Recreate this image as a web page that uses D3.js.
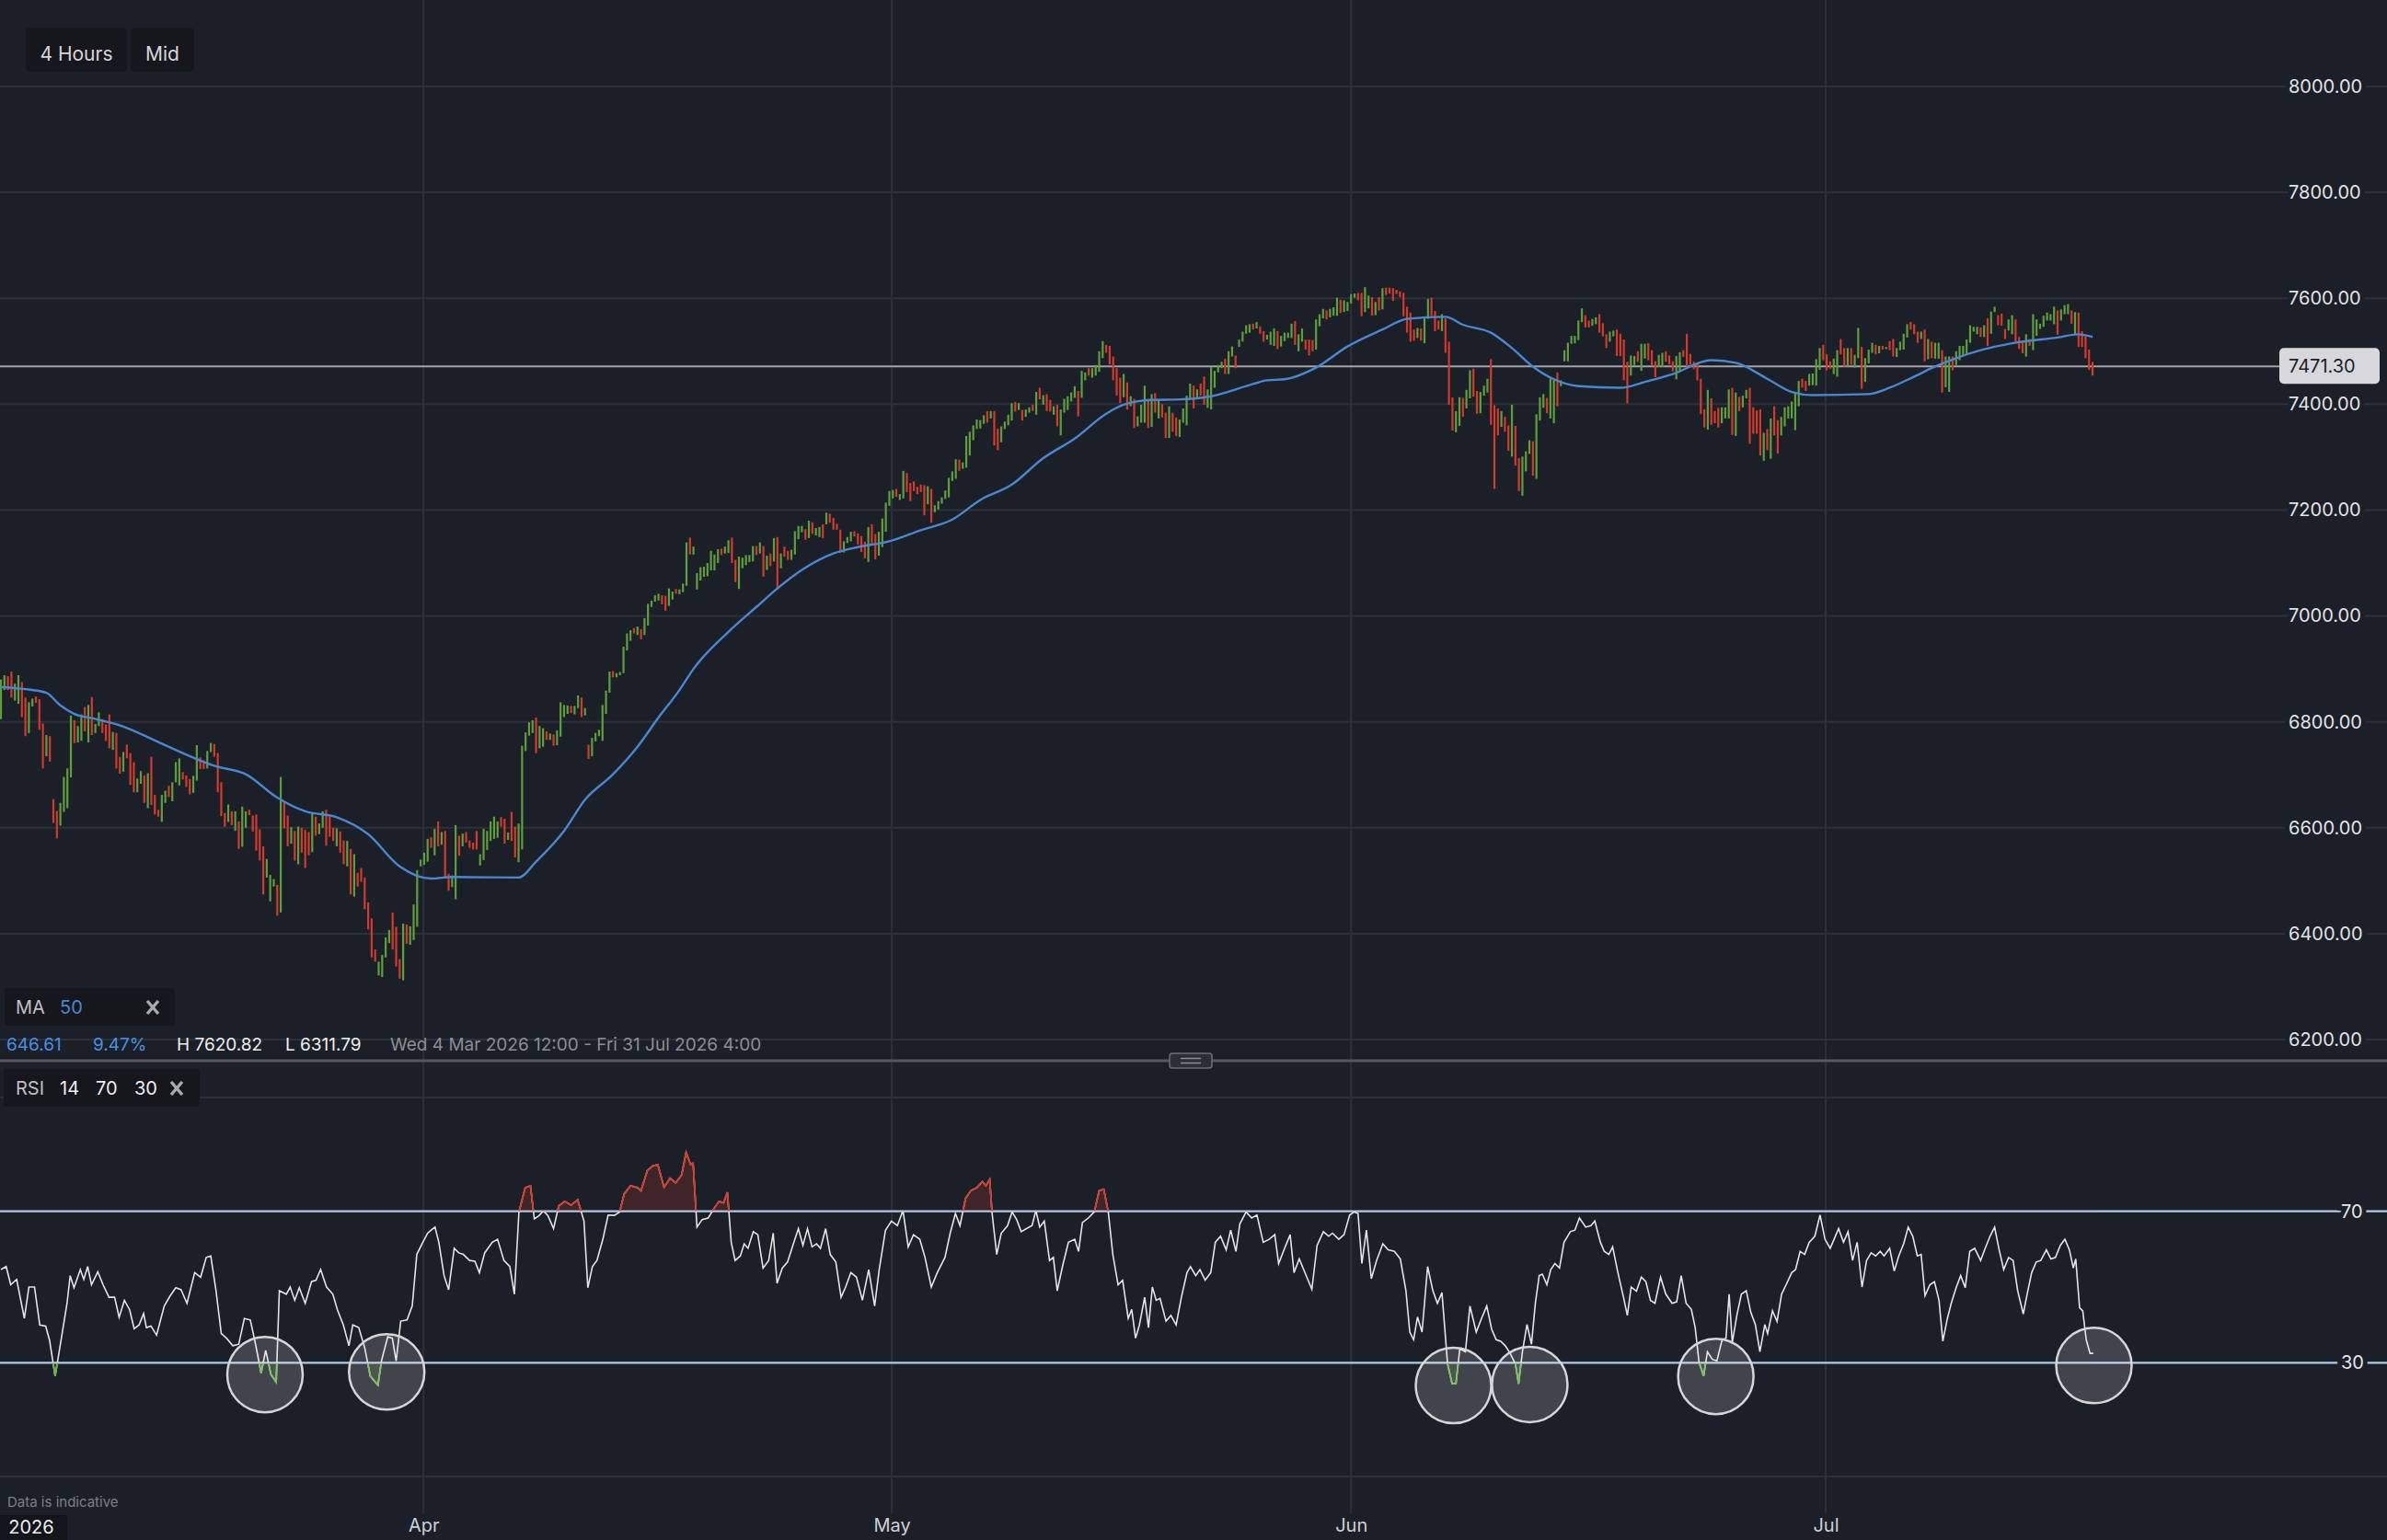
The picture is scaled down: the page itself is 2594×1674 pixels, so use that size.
<!DOCTYPE html>
<html>
<head>
<meta charset="utf-8">
<script src="https://cdn.jsdelivr.net/npm/d3@7"></script>
<style>
body{margin:0;background:#1b1f27;}
svg{display:block;}
</style>
</head>
<body>
<svg id="chart" width="2594" height="1674"></svg>
<script>
// 4 hour bars, Wed 4 Mar 2026 12:00 onwards
var highs = [6880,6888,6886,6895,6872,6888,6875,6846,6837,6844,6848,6843,6797,6775,6773,6654,6632,6647,6696,6712,
6812,6803,6792,6814,6828,6832,6847,6796,6818,6805,6795,6814,6781,6779,6734,6743,6757,6741,6724,6693,
6707,6699,6703,6734,6662,6634,6662,6670,6679,6686,6724,6731,6705,6699,6692,6698,6756,6733,6727,6745,
6760,6758,6741,6686,6628,6644,6631,6631,6612,6640,6631,6634,6623,6625,6597,6565,6541,6511,6503,6492,
6696,6650,6623,6601,6594,6602,6600,6596,6592,6627,6621,6608,6631,6634,6622,6600,6599,6593,6576,6575,
6560,6550,6515,6524,6506,6459,6429,6370,6347,6360,6393,6407,6440,6413,6352,6419,
6417,6414,6455,6520,6540,6553,6579,6582,6598,6612,6592,6594,6513,6510,6605,6585,6589,6592,6576,6572,
6594,6550,6598,6594,6612,6621,6612,6620,6617,6591,6630,6602,6608,6755,6780,6799,6803,6808,6792,6788,
6782,6778,6776,6784,6837,6832,6831,6830,6830,6850,6846,6826,6757,6770,6779,6785,6832,6859,6895,6896,
6892,6894,6942,6967,6973,6977,6980,6975,6996,7023,7029,7039,7042,7039,7038,7052,7046,7051,7050,7061,
7139,7148,7131,7081,7092,7093,7100,7123,7116,7126,7127,7131,7143,7148,7106,7112,7110,7115,7115,7132,
7132,7139,7132,7114,7118,7147,7149,7118,7131,7123,7125,7160,7170,7170,7164,7180,7177,7166,7168,7173,
7195,7193,7185,7174,7163,
7141,7149,7159,7160,7156,7151,7140,7168,7173,7155,7159,7184,7214,7236,7238,7240,7230,7274,7270,7251,
7254,7244,7248,7247,7245,7240,7209,7217,7224,7237,7261,7273,7296,7295,7290,7340,7348,7360,7371,7370,
7379,7387,7387,7387,7354,7358,7367,7380,7402,7404,7402,7389,7390,7394,7399,7423,7431,7417,7419,7408,
7396,7399,7390,7410,7415,7422,7434,7425,7463,7460,7468,7468,7474,7500,7519,7512,7510,7490,7468,7450,
7457,7441,7415,7410,7377,7399,7435,7410,7419,7421,7409,7400,7384,7396,7384,7375,7371,7392,7416,7439,
7435,7428,7439,7452,7428,7470,7463,7474,7480,7486,7500,7509,7492,7522,7537,7549,7551,7552,7555,7547,
7538,7531,7537,
7543,7538,7529,7535,7535,7552,7557,7532,7543,7522,7522,7521,7560,7570,7580,7577,7580,7583,7601,7597,
7596,7593,7608,7609,7610,7610,7620.82,7605,7602,7593,7602,7619,7620,7620,7619,7616,7613,7610,7584,7573,
7541,7544,7543,7564,7599,7601,7576,7558,7570,7562,7518,7413,7387,7413,7412,7427,7464,7467,7425,7423,
7435,7448,7485,7398,7392,7387,7376,7360,7399,7359,7298,7301,7311,7332,7330,7381,7413,7419,7412,7448,
7448,7460,7445,7502,7516,7529,7529,7558,7581,7568,7558,7561,7564,7570,7553,7532,7537,7539,7541,7533,
7522,7480,7492,7491,7500,7514,7514,7515,7502,7481,7493,7497,7500,7492,7481,7491,7498,7502,7533,7495,
7480,7476,7448,7390,7427,7411,7387,7393,7394,7394,7428,7431,7422,7414,7416,7427,
7431,7394,7388,7390,7346,7353,7373,7396,7370,7376,7394,7396,7405,7422,7444,7448,7444,7457,7458,7485,
7506,7512,7494,7481,7486,7502,7523,7506,7506,7506,7493,7544,7508,7487,7503,7516,7512,7510,7510,7508,
7519,7523,7506,7518,7533,7551,7555,7551,7537,7537,7541,7523,7518,7516,7516,7502,7490,7490,7490,7500,
7510,7510,7522,7549,7546,7546,7545,7549,7562,7575,7584,7568,7571,7542,7560,7568,7560,7527,7520,7532,
7523,7570,7560,7552,7567,7573,7570,7584,7577,7579,7587,7589,7577,7574,7573,7538,7529,7503,7480];

var lows = [6805,6860,6860,6846,6840,6834,6809,6773,6779,6829,6836,6785,6712,6735,6725,6609,6580,6604,6630,6637,
6695,6760,6761,6764,6782,6761,6775,6779,6792,6779,6764,6750,6747,6712,6702,6706,6731,6681,6667,6667,
6683,6647,6637,6643,6625,6621,6611,6647,6658,6650,6686,6680,6691,6677,6663,6666,6689,6711,6711,6712,
6743,6734,6667,6622,6602,6611,6605,6594,6560,6564,6600,6624,6593,6557,6538,6474,6506,6461,6489,6434,
6440,6599,6565,6570,6538,6531,6553,6524,6548,6554,6585,6588,6600,6566,6583,6575,6565,6553,6531,6527,
6474,6470,6489,6498,6446,6408,6355,6347,6321,6318,6355,6382,6370,6338,6315,6311.79,
6381,6379,6388,6413,6527,6530,6536,6562,6548,6565,6568,6504,6481,6488,6465,6547,6565,6572,6562,6559,
6559,6529,6539,6558,6575,6579,6581,6602,6570,6577,6575,6544,6535,6559,6745,6774,6779,6741,6750,6753,
6766,6766,6755,6756,6772,6809,6815,6817,6814,6826,6809,6812,6730,6735,6763,6773,6764,6815,6855,6884,
6884,6888,6892,6935,6953,6967,6964,6956,6964,6982,7017,7027,7029,7022,7010,7019,7031,7042,7041,7045,
7057,7116,7116,7050,7067,7074,7075,7086,7086,7100,7115,7118,7119,7100,7064,7051,7090,7096,7102,7103,
7115,7118,7074,7087,7094,7103,7051,7090,7112,7106,7106,7116,7145,7158,7144,7147,7155,7152,7149,7147,
7173,7176,7163,7163,7119,
7120,7138,7141,7150,7135,7121,7109,7102,7133,7107,7114,7130,7159,7208,7222,7225,7219,7222,7234,7217,
7236,7230,7234,7190,7211,7176,7196,7201,7212,7221,7224,7255,7259,7274,7278,7280,7303,7332,7353,7354,
7363,7365,7373,7322,7313,7328,7353,7360,7369,7386,7389,7369,7376,7384,7387,7380,7409,7399,7387,7386,
7380,7358,7341,7384,7389,7405,7412,7377,7412,7445,7454,7450,7454,7461,7487,7497,7475,7445,7416,7402,
7413,7390,7396,7355,7358,7365,7365,7355,7357,7384,7373,7375,7336,7336,7348,7340,7338,7365,7360,7408,
7392,7410,7416,7399,7393,7390,7431,7460,7468,7457,7457,7490,7468,7508,7518,7533,7535,7541,7543,7533,
7518,7522,7512,
7510,7504,7509,7519,7525,7525,7512,7500,7518,7503,7492,7500,7503,7547,7562,7560,7564,7567,7567,7572,
7574,7576,7590,7601,7596,7566,7574,7581,7567,7568,7577,7579,7606,7609,7595,7608,7602,7566,7535,7518,
7520,7525,7520,7515,7561,7567,7538,7541,7538,7497,7399,7350,7347,7359,7376,7392,7411,7414,7382,7383,
7416,7422,7361,7240,7341,7357,7348,7312,7301,7284,7236,7227,7273,7306,7265,7259,7369,7393,7383,7373,
7364,7396,7434,7481,7481,7514,7515,7521,7555,7545,7545,7548,7551,7535,7528,7506,7518,7528,7491,7491,
7445,7402,7454,7474,7480,7463,7486,7483,7473,7451,7470,7470,7480,7475,7462,7447,7462,7489,7471,7474,
7466,7445,7381,7356,7352,7361,7364,7356,7364,7373,7373,7342,7340,7387,7394,7411,
7325,7344,7344,7303,7293,7313,7297,7341,7307,7341,7358,7373,7373,7351,7396,7431,7425,7435,7436,7435,
7465,7483,7464,7467,7457,7452,7494,7471,7471,7474,7469,7487,7429,7442,7477,7497,7494,7496,7503,7504,
7502,7490,7489,7502,7503,7526,7541,7532,7516,7523,7481,7485,7487,7486,7486,7422,7432,7423,7464,7474,
7483,7491,7493,7516,7537,7532,7527,7527,7510,7533,7574,7549,7548,7523,7539,7532,7518,7504,7496,7490,
7510,7502,7529,7542,7546,7558,7558,7551,7531,7558,7570,7570,7552,7532,7508,7508,7487,7465,7454];

// 1 = bar closed up, 0 = bar closed down
var ups = [1,1,0,0,1,1,0,0,1,1,0,0,0,1,0,0,0,1,1,1,1,0,1,1,0,1,0,1,1,0,0,0,1,0,0,1,0,0,0,1,
1,0,1,0,0,0,1,1,0,1,1,1,0,0,0,1,1,0,0,1,1,0,0,0,0,1,0,1,0,1,1,0,0,0,0,0,1,1,1,0,
1,0,0,1,0,1,0,0,0,1,0,1,1,0,0,0,1,0,0,1,0,1,0,0,0,0,0,0,1,1,1,1,0,0,0,1,
0,1,1,1,1,1,1,0,1,0,1,0,0,1,1,0,1,0,0,0,0,1,1,1,1,1,1,0,0,1,0,0,1,1,1,1,1,0,1,1,
0,1,0,1,1,1,1,0,1,1,0,1,0,1,1,1,1,1,1,0,1,1,1,1,1,0,1,0,1,1,1,1,1,0,0,1,1,0,1,1,
1,0,1,1,1,1,1,1,1,1,0,1,1,0,0,1,1,1,1,1,0,1,0,1,0,1,0,1,0,0,1,1,1,1,0,1,0,1,1,0,
1,0,0,0,0,
1,1,1,0,0,0,0,1,0,0,1,1,1,1,1,0,1,1,0,0,0,0,0,0,1,0,1,1,1,1,1,1,1,0,1,1,1,1,1,1,
1,0,1,0,0,1,1,1,1,0,1,0,1,1,0,1,0,1,0,0,1,0,1,1,1,1,1,0,1,1,0,1,1,1,1,0,0,0,0,0,
1,0,1,0,1,1,1,0,1,0,1,0,0,1,0,0,1,1,1,1,0,1,0,0,1,1,1,1,1,0,1,1,0,1,1,1,1,0,1,0,
0,1,1,
1,0,1,1,1,1,0,1,1,0,0,0,1,1,1,0,1,1,1,0,1,1,1,1,0,0,1,1,0,1,0,1,0,0,0,0,0,0,0,0,
0,1,0,1,1,0,0,0,1,0,0,0,1,1,0,1,1,0,0,1,1,1,0,0,0,1,0,0,1,0,0,1,1,1,0,1,1,1,0,1,
1,0,1,1,1,1,1,1,1,0,0,1,1,0,0,0,1,1,0,0,0,0,1,1,0,1,1,0,0,0,1,1,0,0,0,1,1,0,0,0,
0,0,0,0,1,0,0,0,1,1,1,0,1,0,1,1,
0,0,0,0,1,0,1,0,0,1,1,1,1,1,1,0,0,1,1,1,1,0,0,0,1,1,0,0,1,0,1,1,0,1,1,1,0,1,0,1,
0,0,1,1,1,1,0,0,0,1,0,1,0,1,1,0,1,1,0,1,1,1,1,1,1,1,0,1,0,1,1,0,0,0,1,1,0,0,0,1,
0,1,1,1,1,1,1,1,0,1,1,1,0,1,0,0,0,0,0];

// MA(50): [bar index, value]
var ma50 = [[0,6866],[8,6861],[13,6855],[17,6831],[21,6815],[26,6807],[35,6791],[44,6765],[52,6741],[61,6717],
[70,6701],[79,6657],[87,6631],[96,6620],[105,6588],[114,6527],[123,6504],[129,6507],[148,6506],[153,6536],
[161,6594],[167,6653],[175,6701],[182,6753],[188,6808],[194,6860],[198,6900],[208,6970],[216,7017],[222,7052],
[229,7087],[238,7118],[245,7130],[254,7141],[263,7162],[272,7182],[280,7219],[289,7248],[298,7298],[307,7335],
[316,7382],[321,7399],[329,7408],[337,7409],[346,7415],[358,7438],[362,7445],[367,7447],[376,7469],[385,7509],
[395,7541],[402,7561],[413,7565],[418,7550],[426,7535],[432,7506],[438,7471],[444,7447],[451,7434],[463,7431],
[470,7442],[478,7457],[489,7483],[496,7478],[505,7448],[512,7423],[518,7417],[534,7419],[540,7431],[547,7452],
[553,7471],[559,7487],[566,7502],[575,7515],[588,7526],[594,7532],[598,7527]];

// RSI(14): [bar index, value]
var rsi14 = [[0,54.6],[1.5,55.4],[2.8,50.6],[4.5,52],[6.7,41.7],[8,50],[9.6,50],[11.1,40],[12.8,39.7],[13.9,36],
[15.5,26.5],[17.2,36],[18.9,45.7],[19.8,53],[20.9,49.8],[22.7,54.6],[23.7,52],[24.8,55.4],[25.9,50.6],[27.7,54],
[29.2,50.6],[30.9,47.3],[32.5,47.3],[33.8,42],[35.3,46.5],[36.8,44],[38.1,39],[39.5,40],[40.8,43],[41.6,39.3],
[42.9,39.7],[44.5,37.3],[46.7,45],[48.4,47.7],[50,49.8],[51.5,49.3],[53.2,45.7],[55.4,53.8],[57.1,52.6],[58.7,57.8],
[60,58.2],[61.5,49],[63,37.7],[64.5,36.5],[66.3,34.5],[68,34.9],[69.6,41.7],[71.3,41.3],[72.8,34.9],[74.4,27.3],
[75.7,33.3],[77.2,26.9],[78.7,24.9],[79.6,49],[81.6,48.1],[82.7,50],[84,46.5],[85.3,49.8],[87,45.7],[88.8,51.4],
[90.1,51.8],[91.4,54.6],[93.1,50],[94.9,48.1],[96.2,44],[97.9,40],[99.5,34.5],[100.6,40],[102.3,39.3],[104,34],
[105.6,26.5],[107.8,24.1],[108.8,30.5],[110.6,36.9],[111.9,36.5],[113,30.5],[114.3,41],[116.1,41.3],[117.6,45],[118.9,58.6],
[120.4,61.4],[122,64.2],[123,65],[124.1,65.8],[125.2,61.8],[126.7,53],[128,49.3],[129.6,60.2],[130.9,59],[132.2,58.6],
[134,57],[135.5,56.8],[136.8,53.8],[138.3,59],[140.5,61.8],[142,62.6],[143.8,57],[145.5,55.4],[146.8,48.1],[148.1,69.8],
[149.9,76.2],[151.4,76.7],[152.5,68],[153.8,68.8],[155.1,70.1],[156.4,68.8],[158,65.4],[159.5,71.4],[161.2,72.6],[163,71.6],
[164.9,73],[166.7,67.4],[167.8,49.8],[169.1,55.4],[170.4,57],[172.1,62.6],[173.6,69],[175.4,68.9],[176.9,69.8],[178.2,74.6],
[180,76.7],[181.9,76.3],[183,75.4],[184.8,80.7],[186.3,81.9],[187.8,82.3],[189.6,76.3],[191.3,78.7],[192.9,77.5],[194.6,79.5],
[195.9,85.5],[197.2,82.3],[197.9,82.7],[199,65.8],[200.5,67.8],[202.2,68.2],[203.8,70.6],[205.3,72.6],[206.6,72.2],[207.7,75],
[208.8,61.8],[209.9,57],[211.4,58.2],[212.5,61.4],[213.6,60.2],[215.1,64.6],[216.4,63.8],[217.9,55],[219.5,57],[220.8,64.2],
[221.9,51],[223.4,55],[224.9,56.6],[226.7,61.8],[228,65.4],[229.3,61],[230.6,65.4],[231.9,60.6],[233.2,61.4],[234.3,60.2],
[235.8,65.4],[237.1,58.6],[238.7,56.6],[240.2,47.3],[241.5,50],[243,53.8],[244.6,52.6],[246.3,46.5],[248.1,54.6],[249.8,45],
[251.1,54.6],[252.9,65],[254.6,67.4],[256.3,66.2],[257.9,70.2],[259.4,60.6],[260.9,63.8],[262.7,62.6],[264.2,57.8],[266,50],
[267.7,53.8],[269.9,57.8],[271.4,64.2],[272.9,69.4],[274.2,66.2],[275.8,73.4],[277.3,75.4],[279,76.2],[280.6,77.8],[281.6,76.7],
[282.7,78.4],[283.4,69.3],[284.7,58.6],[286,64.2],[287.8,66.2],[289.1,69.8],[290.4,67.8],[291.7,64.6],[293.2,65.4],[294.8,66.2],
[295.9,70.2],[297,65.8],[298.3,67.4],[299.8,57],[300.9,57.8],[302,49],[303.5,55.4],[305.2,61.8],[307,62.6],[308.1,59.4],
[309.2,67],[310.9,68.2],[312.6,69.8],[314,75.4],[315.3,75.8],[316.6,69.8],[317.9,58.6],[319.4,50.6],[320.7,51.8],[322.3,41.7],
[323.3,44.1],[324.4,36.5],[325.5,40],[327,47.3],[328.1,39.3],[329.2,50],[330.3,46.5],[331.4,47],[333.1,41],[334.5,42.5],
[336,40],[337.5,47.3],[339.1,53.8],[340.1,55.4],[341.6,53],[342.8,54.6],[344.3,51.8],[345.9,53.8],[347.2,61.8],[348.7,63.4],
[350.3,59.8],[351.6,65],[353.1,59.4],[354.2,66.6],[356,69.8],[357.6,68.2],[359.1,69],[360.9,61.8],[362.6,62.6],[364.2,63.8],
[365.3,56.2],[367,60.2],[368.6,63.8],[369.7,53.8],[371.2,57.4],[373,53.4],[374.8,49.4],[376.3,61],[378.1,64.6],[379.6,63.4],
[380.7,64.2],[382.5,62.6],[384,63.8],[385.6,69],[386.9,69.8],[388,69.4],[389.1,56.2],[390.4,65],[391.8,52.2],[393.3,57],
[395.1,61.4],[396.6,59.8],[398.4,59.4],[400.1,57.4],[401.7,49],[402.8,38.1],[403.9,36.1],[405,42.1],[406.3,38.1],[407.9,55.4],
[409.4,49],[410.7,45.7],[412,48.5],[413.6,29.7],[414.9,24.5],[416,24.5],[417.1,33.7],[418.7,32.9],[420,45],[421.8,38.1],
[423.3,41.7],[424.8,45],[426.2,38.9],[427.5,36.1],[428.8,35.7],[430.1,34.5],[431.5,32.5],[433,29.7],[433.9,24.5],[435,32.9],
[436.3,40.1],[437.6,34.9],[438.7,45.7],[439.8,53],[440.7,53.4],[442,50.6],[443.1,54.6],[444.3,56.2],[445.6,55],[446.9,61.8],
[448.7,64.6],[450,65],[451.3,68.2],[453.1,65.8],[454.6,66.2],[455.7,67.4],[457.3,61.8],[458.4,59.4],[459.7,58.6],[460.8,60.6],
[462.3,53.8],[463.9,47.3],[465,42.5],[466.1,50],[467.6,48.9],[469,52.6],[470.3,51.4],[471.6,46.5],[472.9,45.7],[474.5,52.6],
[476,48.1],[477.8,45.7],[479.1,46.1],[480.4,53],[481.8,45.7],[483.3,44.1],[484.4,39.3],[485.5,30.1],[486.8,26.5],[487.9,32.9],
[489.3,30.9],[490.6,30.5],[492.1,36.1],[493.2,36.5],[494.1,48.1],[495,35.3],[496.3,42.5],[497.6,48.1],[499,49],[500.3,43.3],
[501.6,40.1],[502.9,32.9],[504.3,40.1],[505.1,37.7],[506.5,43.7],[507.8,40.9],[509.1,48.1],[510.4,50.6],[512,53.8],[513.1,54.6],
[514.4,59.4],[515.7,58.6],[517,61.8],[518.6,63.4],[520.1,69],[521.5,62.6],[523,60.2],[524.1,62.6],[525.4,65.4],[526.8,61.8],
[528.1,64.6],[529.4,57],[530.7,61.8],[532.1,50],[533.4,57],[534.7,59],[536,58.2],[537.3,59.4],[538.4,58.2],[540,60.2],
[541.3,54.2],[542.6,58.2],[544,61.4],[545.3,65.8],[546.6,63.4],[547.9,58.2],[549,58.6],[550.1,47.7],[551.5,50.6],[552.8,51.4],
[554.1,46.5],[555.2,35.7],[556.5,41.7],[557.6,45.7],[559,49.8],[560.3,53],[561.6,49.8],[562.9,59.4],[564.3,60.2],[566,57],
[567.3,60.2],[568.7,63.4],[570,65.8],[571.3,59.8],[572.6,54.6],[574,57.8],[575.3,57],[576.6,49],[578.2,42.9],[579.3,48.1],
[580.6,53.8],[581.9,56.6],[583.2,57],[584.8,59.8],[586.1,57.4],[587.4,57.8],[588.8,61],[590.1,62.6],[591.4,59.8],[592.5,55],
[593.2,57.4],[594.3,44.5],[595.2,43.7],[596.2,36.1],[597.3,32.5],[598.2,32.5]];

var priceTicks = [6200,6400,6600,6800,7000,7200,7400,7600,7800,8000];
var rsiLevels = [70,30];
var monthLabels = ["Apr","May","Jun","Jul"];
var monthIdx = [120.8,254.7,386,521.7];
var lastPrice = 7471.30;
var firstOpen = 6824.69;
var rangeText = "Wed 4 Mar 2026 12:00 - Fri 31 Jul 2026 4:00";
// highlighted RSI dips
var circleIdx = [75.5,110.3,415.3,437.1,490.3,598.4];
var circleRsi = [26.9,27.6,24,24.3,26.4,29.3];

window.addEventListener("load",function(){
var W = 2594, H = 1674;
var bg = "#1b1f27", grid = "#2c3039", font = "Inter, Roboto, sans-serif";
var green = "#5c9f3c", red = "#d23a2c";
var svg = d3.select("#chart").attr("font-family", font);

var x = d3.scaleLinear().domain([0, 598]).range([1, 2274]);
var y = d3.scaleLinear().domain([6200, 8000]).range([1130, 94]);
var yR = d3.scaleLinear().domain([0, 100]).range([1605, 1193]);

svg.append("rect").attr("width", W).attr("height", H).attr("fill", bg);

// grid
svg.selectAll(".hgrid").data(priceTicks).enter().append("line")
  .attr("x1", 0).attr("x2", W).attr("y1", d => y(d)).attr("y2", d => y(d))
  .attr("stroke", grid).attr("stroke-width", 2);
svg.selectAll(".rgrid").data([0, 100]).enter().append("line")
  .attr("x1", 0).attr("x2", W).attr("y1", d => yR(d)).attr("y2", d => yR(d))
  .attr("stroke", grid).attr("stroke-width", 2);
svg.selectAll(".vgrid").data(monthIdx).enter().append("line")
  .attr("x1", d => x(d)).attr("x2", d => x(d)).attr("y1", 0).attr("y2", 1645)
  .attr("stroke", grid).attr("stroke-width", 2);

// last price line
svg.append("line").attr("x1", 0).attr("x2", 2477).attr("y1", y(lastPrice)).attr("y2", y(lastPrice))
  .attr("stroke", "#a3a3a8").attr("stroke-width", 2);

// bars
var n = Math.min(highs.length, lows.length, ups.length);
var bars = d3.range(n);
svg.append("g").selectAll("rect").data(bars).enter().append("rect")
  .attr("x", i => x(i) - 1.1)
  .attr("y", i => y(highs[i]))
  .attr("width", 2.2)
  .attr("height", i => Math.max(2, y(lows[i]) - y(highs[i])))
  .attr("fill", i => ups[i] ? green : red);

// MA 50
var maLine = d3.line().x(d => x(d[0])).y(d => y(d[1])).curve(d3.curveMonotoneX);
svg.append("path").attr("d", maLine(ma50)).attr("fill", "none")
  .attr("stroke", "#4a87d0").attr("stroke-width", 2.4);

// price axis
var gy = svg.append("g").attr("transform", "translate(2487,0)")
  .call(d3.axisRight(y).tickValues(priceTicks).tickFormat(d3.format(".2f")).tickSize(0).tickPadding(0));
gy.select(".domain").remove();
gy.attr("font-family", font).attr("font-size", 20);
gy.selectAll("text").attr("fill", "#e3e3e6").attr("text-anchor", "start")
  .attr("stroke", bg).attr("stroke-width", 10).attr("paint-order", "stroke").attr("stroke-linejoin", "round");

svg.append("rect").attr("x", 2477).attr("y", y(lastPrice) - 20).attr("width", 109).attr("height", 39)
  .attr("rx", 5).attr("fill", "#d8d7dc");
svg.append("text").attr("x", 2487).attr("y", y(lastPrice)).attr("dy", "0.35em")
  .attr("font-size", 20).attr("fill", "#1b1f27").text(d3.format(".2f")(lastPrice));

// separator + handle
svg.append("line").attr("x1", 0).attr("x2", W).attr("y1", 1153).attr("y2", 1153)
  .attr("stroke", "#55595f").attr("stroke-width", 3);
svg.append("rect").attr("x", 1271).attr("y", 1145).attr("width", 46).attr("height", 16).attr("rx", 3)
  .attr("fill", "#2a2e36").attr("stroke", "#6a6e75").attr("stroke-width", 1.5);
[1150.5, 1155.5].forEach(function(v){
  svg.append("line").attr("x1", 1283).attr("x2", 1305).attr("y1", v).attr("y2", v)
    .attr("stroke", "#8a8e95").attr("stroke-width", 1.5);
});

// RSI panel
svg.selectAll(".lvl").data(rsiLevels).enter().append("line")
  .attr("x1", 0).attr("x2", W).attr("y1", d => yR(d)).attr("y2", d => yR(d))
  .attr("stroke", "#b4cbe8").attr("stroke-width", 2.4);

var defs = svg.append("defs");
defs.append("clipPath").attr("id", "above").append("rect")
  .attr("x", 0).attr("y", yR(100)).attr("width", W).attr("height", yR(70) - yR(100));
defs.append("clipPath").attr("id", "below").append("rect")
  .attr("x", 0).attr("y", yR(30)).attr("width", W).attr("height", yR(0) - yR(30));

var rLine = d3.line().x(d => x(d[0])).y(d => yR(d[1]));
svg.append("path").attr("d", d3.area().x(d => x(d[0])).y0(yR(70)).y1(d => yR(d[1]))(rsi14))
  .attr("fill", "rgba(210,58,44,0.2)").attr("clip-path", "url(#above)");
svg.append("path").attr("d", d3.area().x(d => x(d[0])).y0(yR(30)).y1(d => yR(d[1]))(rsi14))
  .attr("fill", "rgba(92,160,60,0.18)").attr("clip-path", "url(#below)");
svg.append("path").attr("d", rLine(rsi14)).attr("fill", "none")
  .attr("stroke", "#e4e4e6").attr("stroke-width", 1.6);
svg.append("path").attr("d", rLine(rsi14)).attr("fill", "none")
  .attr("stroke", red).attr("stroke-width", 1.8).attr("clip-path", "url(#above)");
svg.append("path").attr("d", rLine(rsi14)).attr("fill", "none")
  .attr("stroke", "#67b34a").attr("stroke-width", 1.8).attr("clip-path", "url(#below)");

svg.selectAll(".dip").data(circleIdx).enter().append("circle")
  .attr("cx", d => x(d)).attr("cy", (d, i) => yR(circleRsi[i])).attr("r", 41)
  .attr("fill", "rgba(255,255,255,0.17)").attr("stroke", "#d6d6d8").attr("stroke-width", 2.5);

var gr = svg.append("g").attr("transform", "translate(2544,0)")
  .call(d3.axisRight(yR).tickValues(rsiLevels).tickSize(0).tickPadding(0));
gr.select(".domain").remove();
gr.attr("font-family", font).attr("font-size", 20);
gr.selectAll("text").attr("fill", "#e6e6e8").attr("text-anchor", "start")
  .attr("stroke", bg).attr("stroke-width", 10).attr("paint-order", "stroke");

// time axis
var gx = svg.append("g").attr("transform", "translate(0,1651)")
  .call(d3.axisBottom(x).tickValues(monthIdx).tickFormat((d, i) => monthLabels[i]).tickSize(0).tickPadding(0));
gx.select(".domain").remove();
gx.attr("font-family", font).attr("font-size", 20);
gx.selectAll("text").attr("fill", "#cfd0d3");
svg.append("rect").attr("x", 0).attr("y", 1647).attr("width", 73).attr("height", 27).attr("fill", "#12151a");
svg.append("text").attr("x", 34).attr("y", 1667).attr("text-anchor", "middle")
  .attr("font-size", 20).attr("fill", "#ececee").text("2026");
svg.append("text").attr("x", 8).attr("y", 1638).attr("font-size", 15).attr("fill", "#7c7f86").text("Data is indicative");

// top buttons
[["4 Hours", 28, 110], ["Mid", 142, 69]].forEach(function(b){
  svg.append("rect").attr("x", b[1]).attr("y", 30).attr("width", b[2]).attr("height", 48).attr("rx", 5).attr("fill", "#15171c");
  svg.append("text").attr("x", b[1] + b[2] / 2).attr("y", 66).attr("text-anchor", "middle")
    .attr("font-size", 21).attr("fill", "#d6d6d8").text(b[0]);
});

function closeMark(cx, cy){
  svg.append("path").attr("d", "M" + (cx - 6) + "," + (cy - 7) + "L" + (cx + 6) + "," + (cy + 7) +
    "M" + (cx + 6) + "," + (cy - 7) + "L" + (cx - 6) + "," + (cy + 7))
    .attr("stroke", "#a9abb0").attr("stroke-width", 3.4);
}

// MA legend
svg.append("rect").attr("x", 5).attr("y", 1074).attr("width", 185).attr("height", 41).attr("rx", 4).attr("fill", "#15171c");
svg.append("text").attr("x", 17).attr("y", 1102).attr("font-size", 20).attr("fill", "#bfc0c4").text("MA");
svg.append("text").attr("x", 65).attr("y", 1102).attr("font-size", 20).attr("fill", "#4a87d0").text("50");
closeMark(166, 1095);

// stats row
var change = lastPrice - firstOpen;
svg.append("text").attr("x", 7).attr("y", 1142).attr("font-size", 19).attr("fill", "#4a90e2").text(d3.format(".2f")(change));
svg.append("text").attr("x", 101).attr("y", 1142).attr("font-size", 19).attr("fill", "#4a90e2").text(d3.format(".2f")(change / firstOpen * 100) + "%");
svg.append("text").attr("x", 192).attr("y", 1142).attr("font-size", 19).attr("fill", "#eeeef0").text("H " + d3.format(".2f")(d3.max(highs)));
svg.append("text").attr("x", 310).attr("y", 1142).attr("font-size", 19).attr("fill", "#eeeef0").text("L " + d3.format(".2f")(d3.min(lows)));
svg.append("text").attr("x", 424).attr("y", 1142).attr("font-size", 19).attr("fill", "#8b8e94").text(rangeText);

// RSI legend
svg.append("rect").attr("x", 4).attr("y", 1162).attr("width", 213).attr("height", 41).attr("rx", 4).attr("fill", "#15171c");
svg.append("text").attr("x", 17).attr("y", 1190).attr("font-size", 20).attr("fill", "#bfc0c4").text("RSI");
[["14", 65], ["70", 104], ["30", 146]].forEach(function(t){
  svg.append("text").attr("x", t[1]).attr("y", 1190).attr("font-size", 20).attr("fill", "#eeeef0").text(t[0]);
});
closeMark(192, 1183);

});
</script>
</body>
</html>
